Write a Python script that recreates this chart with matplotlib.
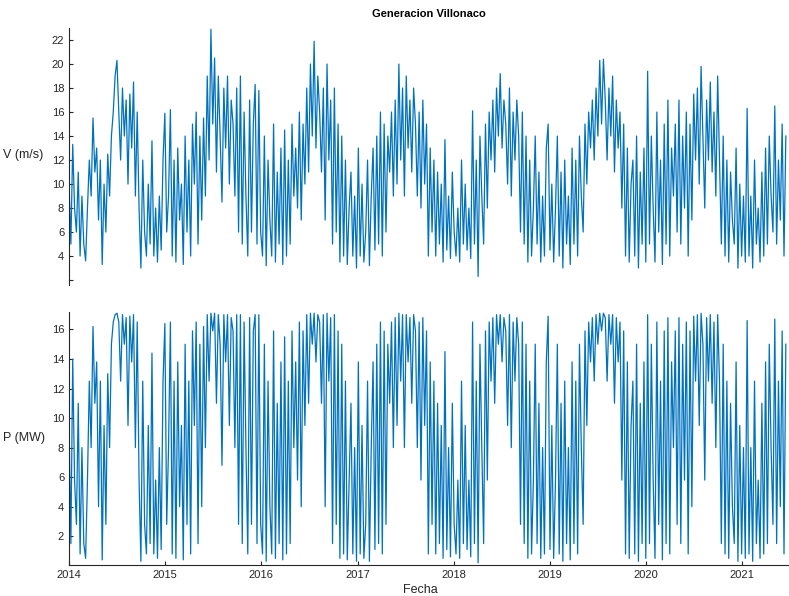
import matplotlib
matplotlib.use("Agg")
import matplotlib.pyplot as plt
import numpy as np
import pandas as pd

plt.rcParams['font.family'] = ['Liberation Sans', 'DejaVu Sans']

# weekly readings, one row per quarter (13 weeks), starting 2014-01-01
wind = [
    # 2014
    10, 5, 13.3, 8, 6, 11, 4, 9, 5, 3.6, 8, 12, 9,
    15.5, 11, 13, 7, 12, 3.3, 10, 6, 12.5, 9, 14, 16, 19,
    20.3, 16, 12, 18, 14, 17, 10, 17.5, 13, 18.5, 9, 16, 8,
    3, 12, 6, 4, 10, 5, 13.6, 4, 8, 3.5, 9, 4.5, 12,
    # 2015
    15.9, 6, 9, 16.2, 4, 12, 3.5, 13, 7, 10, 3.3, 14, 6,
    12, 4, 15, 10, 16, 5, 14, 7, 15.5, 9, 19, 12, 22.9,
    15, 20.5, 11, 19, 14, 8.5, 18, 13, 19, 10, 17, 15, 9,
    18, 6, 19, 5, 16, 9, 4, 17, 6, 15, 18.3, 5, 17.8,
    # 2016
    6, 4, 14, 3.2, 12, 7, 4, 15, 3.5, 11, 5, 13, 3.3,
    14.5, 4, 12, 5, 15, 9, 13, 8, 16, 7, 15, 10, 18,
    11, 20, 14, 21.9, 13, 19, 16, 11, 18, 7, 20, 12, 17,
    5, 18, 6, 15, 3.5, 14, 4, 12, 3.3, 8, 11, 4, 9,
    # 2017
    3, 13, 4, 10, 3.5, 6, 12, 3.2, 9, 13, 4.5, 14, 5,
    16, 4, 15, 6, 14, 11, 16, 9, 17, 10, 20, 12, 18,
    9, 19, 13, 17, 11, 18, 15, 9, 16, 8, 17, 10, 15,
    4, 13, 6, 12, 4, 11, 5, 10, 3.5, 13.7, 4.5, 9, 3.8,
    # 2018
    11, 6, 4, 8, 3.5, 12, 5, 10, 4.5, 8, 3.8, 16.1, 5,
    12, 2.3, 14, 9, 5, 15, 8, 16, 12, 17, 11, 18, 14,
    19.2, 13, 17, 15, 10, 18, 9, 16, 12, 17, 14, 6, 16,
    5, 14, 3.5, 12, 4, 8, 14, 5, 11, 3.5, 9, 4, 13,
    # 2019
    15, 4.5, 10, 3.5, 8, 14, 4, 11, 3, 12, 5, 9, 3.3,
    13, 5, 12, 4, 14, 9, 6, 15, 10, 16, 13, 17, 12,
    18, 14, 20.3, 15, 20.4, 17, 12, 18, 14, 19, 11, 17, 13,
    16, 8, 15, 4, 13, 3.5, 10, 12, 4, 14, 3, 11, 5,
    # 2020
    13, 3.5, 19.4, 5, 14, 8, 3.5, 16, 6, 12, 3.3, 15, 5,
    17, 4, 13, 9, 15, 6, 17, 5, 14, 8, 16, 4, 15,
    7, 17.5, 12, 18, 10, 19.8, 14, 8, 17, 12, 18.5, 11, 16,
    9, 19, 12, 5, 14, 4, 12, 3.5, 11, 7, 5, 13, 3,
    # 2021
    10, 4, 9, 3.5, 16.3, 4, 9, 3, 12, 5, 8, 3.5, 11,
    4, 13, 5, 14, 9, 6, 16.5, 5, 12, 7, 15, 4, 14,
]

power = [
    # 2014
    9.5, 1.5, 14, 5.8, 2.8, 11, 0.8, 8, 1.5, 0.5, 5.8, 12.5, 8,
    16.2, 11, 13.8, 4, 12.5, 0.4, 9.5, 2.8, 13, 8, 15, 16.5, 17,
    17.1, 16.5, 12.5, 17, 15, 16.8, 9.5, 16.9, 13.8, 17, 8, 16.5, 5.8,
    0.3, 12.5, 2.8, 0.8, 9.5, 1.5, 14.4, 0.8, 5.8, 0.5, 8, 1.1, 12.5,
    # 2015
    16.4, 2.8, 8, 16.5, 0.8, 12.5, 0.5, 13.8, 4, 9.5, 0.4, 15, 2.8,
    12.5, 0.8, 15.9, 9.5, 16.5, 1.5, 15, 4, 16.2, 8, 17, 12.5, 17.1,
    15.9, 17.1, 11, 17, 15, 6.8, 17, 13.8, 17, 9.5, 16.8, 15.9, 8,
    17, 2.8, 17, 1.5, 16.5, 8, 0.8, 16.8, 2.8, 15.9, 17, 1.5, 17,
    # 2016
    2.8, 0.8, 15, 0.3, 12.5, 4, 0.8, 15.9, 0.5, 11, 1.5, 13.8, 0.4,
    15.5, 0.8, 12.5, 1.5, 15.9, 8, 13.8, 5.8, 16.5, 4, 15.9, 9.5, 17,
    11, 17.1, 15, 17.1, 13.8, 17, 16.5, 11, 17, 4, 17.1, 12.5, 16.8,
    1.5, 17, 2.8, 15.9, 0.5, 15, 0.8, 12.5, 0.4, 5.8, 11, 0.8, 8,
    # 2017
    0.3, 13.8, 0.8, 9.5, 0.5, 2.8, 12.5, 0.3, 8, 13.8, 1.1, 15, 1.5,
    16.5, 0.8, 15.9, 2.8, 15, 11, 16.5, 8, 16.8, 9.5, 17.1, 12.5, 17,
    8, 17, 13.8, 16.8, 11, 17, 15.9, 8, 16.5, 5.8, 16.8, 9.5, 15.9,
    0.8, 13.8, 2.8, 12.5, 0.8, 11, 1.5, 9.5, 0.5, 14.5, 1.1, 8, 0.6,
    # 2018
    11, 2.8, 0.8, 5.8, 0.5, 12.5, 1.5, 9.5, 1.1, 5.8, 0.6, 16.5, 1.5,
    12.5, 0.2, 15, 8, 1.5, 15.9, 5.8, 16.5, 12.5, 16.8, 11, 17, 15,
    17, 13.8, 16.8, 15.9, 9.5, 17, 8, 16.5, 12.5, 16.8, 15, 2.8, 16.5,
    1.5, 15, 0.5, 12.5, 0.8, 5.8, 15, 1.5, 11, 0.5, 8, 0.8, 13.8,
    # 2019
    16.9, 1.1, 9.5, 0.5, 5.8, 15, 0.8, 11, 0.3, 12.5, 1.5, 8, 0.4,
    13.8, 1.5, 12.5, 0.8, 15, 8, 2.8, 15.9, 9.5, 16.5, 13.8, 16.8, 12.5,
    17, 15, 17.1, 15.9, 17.1, 16.8, 12.5, 17, 15, 17, 11, 16.8, 13.8,
    16.5, 5.8, 15.9, 0.8, 13.8, 0.5, 9.5, 12.5, 0.8, 15, 0.3, 11, 1.5,
    # 2020
    13.8, 0.5, 17, 1.5, 15, 5.8, 0.5, 16.5, 2.8, 12.5, 0.4, 15.9, 1.5,
    16.8, 0.8, 13.8, 8, 15.9, 2.8, 16.8, 1.5, 15, 5.8, 16.5, 0.8, 15.9,
    4, 16.9, 12.5, 17, 9.5, 17.1, 15, 5.8, 16.8, 12.5, 17, 11, 16.5,
    8, 17, 12.5, 1.5, 15, 0.8, 12.5, 0.5, 11, 4, 1.5, 13.8, 0.3,
    # 2021
    9.5, 0.8, 8, 0.5, 16.6, 0.8, 8, 0.3, 12.5, 1.5, 5.8, 0.5, 11,
    0.8, 13.8, 1.5, 15, 8, 2.8, 16.7, 1.5, 12.5, 4, 15.9, 0.8, 15,
]

fechas = pd.date_range('2014-01-01', periods=len(wind), freq='7D')
anios = [str(a) for a in range(2014, 2022)]

color = '#0072BD'
fig = plt.figure(figsize=(7.89, 5.96), dpi=100)
ax1 = fig.add_axes([0.0875, 0.522, 0.9125, 0.431])
ax2 = fig.add_axes([0.0875, 0.052, 0.9125, 0.425])

xmin = pd.Timestamp('2014-01-01')
xmax = pd.Timestamp('2021-06-28')

ax1.plot(fechas, wind, color=color, lw=0.9)
ax2.plot(fechas, power, color=color, lw=0.9)

for ax in (ax1, ax2):
    ax.set_xlim(xmin, xmax)
    ax.spines['top'].set_visible(False)
    ax.spines['right'].set_visible(False)
    ax.tick_params(direction='in', labelsize=8, colors='#262626', length=3)
    for s in ax.spines.values():
        s.set_color('#262626')

# top panel: no x axis
ax1.spines['bottom'].set_visible(False)
ax1.set_xticks([])
ax1.set_ylim(1.6, 23)
ax1.set_yticks(np.arange(2, 23, 2))
ax1.set_yticklabels([''] + [str(v) for v in range(4, 23, 2)])

ax2.set_ylim(0.05, 17.2)
ax2.set_yticks(np.arange(2, 17, 2))
ax2.set_xticks([pd.Timestamp(a + '-01-01') for a in anios])
ax2.set_xticklabels(anios)

ax1.set_title('Generacion Villonaco', fontsize=8, fontweight='bold', pad=8)
fig.text(3 / 789, 1 - 155 / 596, 'V (m/s)', fontsize=9, va='center', ha='left', color='#262626')
fig.text(3 / 789, 1 - 438 / 596, 'P (MW)', fontsize=9, va='center', ha='left', color='#262626')
fig.text(420 / 789, 1 - 590 / 596, 'Fecha', fontsize=9, va='center', ha='center', color='#262626')

fig.savefig('out.png', dpi=100)
